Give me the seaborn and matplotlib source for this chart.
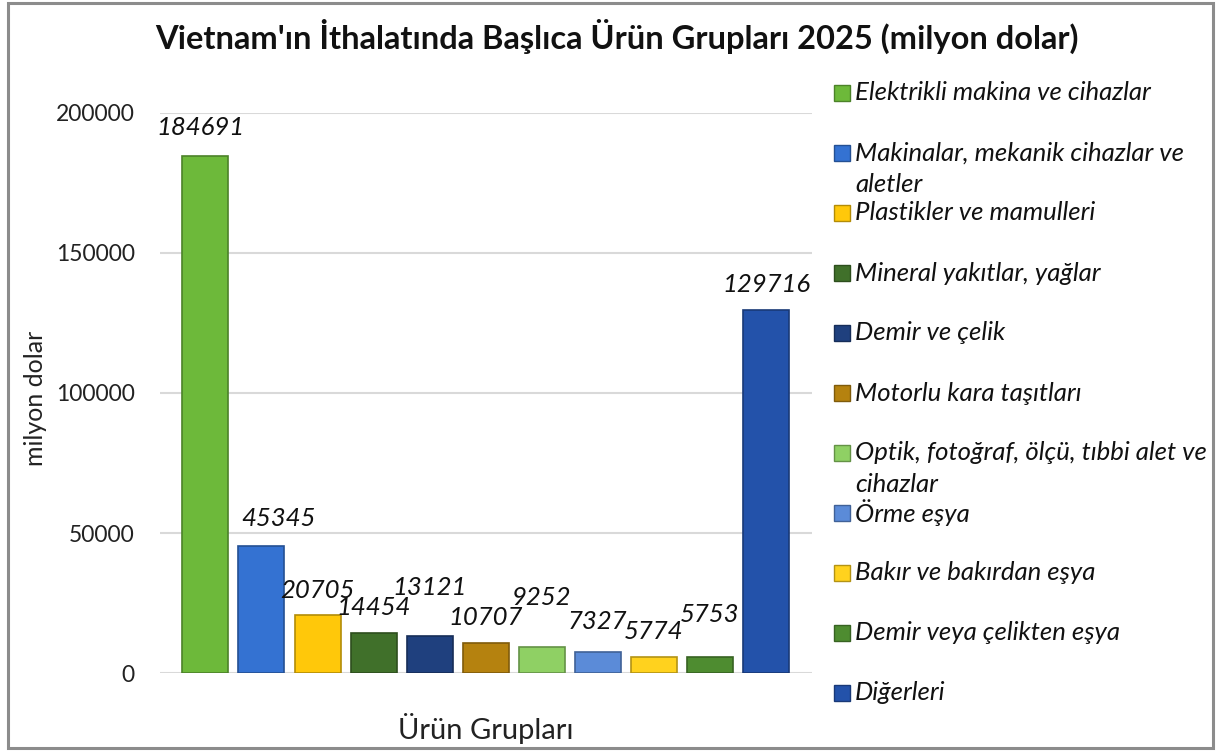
import matplotlib
matplotlib.use("Agg")
import matplotlib.pyplot as plt
import seaborn as sns
import pandas as pd
from matplotlib.patches import Rectangle
from matplotlib.colors import to_rgb

categories = [
    "Elektrikli makina ve cihazlar",
    "Makinalar, mekanik cihazlar ve\naletler",
    "Plastikler ve mamulleri",
    "Mineral yakıtlar, yağlar",
    "Demir ve çelik",
    "Motorlu kara taşıtları",
    "Optik, fotoğraf, ölçü, tıbbi alet ve\ncihazlar",
    "Örme eşya",
    "Bakır ve bakırdan eşya",
    "Demir veya çelikten eşya",
    "Diğerleri",
]
values = [184691, 45345, 20705, 14454, 13121, 10707, 9252, 7327, 5774, 5753, 129716]
colors = ["#6DB93A", "#3472D2", "#FFC80A", "#40702A", "#1F407E", "#B5820F",
          "#8FD064", "#5B8BD8", "#FFD21E", "#4E8C30", "#2352AA"]
# label offsets (pixels) to mimic the original placement
label_dx = [-5, 17, 0, 0, 0, 0, 0, 0, 0, 0, 0]
label_dy = [28, 28, 25, 25, 49, 26, 50, 31, 25, 42, 25]

df = pd.DataFrame({"cat": categories, "val": values})

sns.set_theme(style="white")
plt.rcParams["font.family"] = ["Lato", "DejaVu Sans"]

W, H = 1219, 756
fig = plt.figure(figsize=(W / 100, H / 100), dpi=100)
ax = fig.add_axes([160 / W, 1 - 673 / H, 652 / W, 560 / H])

dark = [tuple(c * 0.7 for c in to_rgb(col)) for col in colors]
sns.barplot(data=df, x="cat", y="val", hue="cat", palette=colors, legend=False,
            width=0.82, ax=ax, saturation=1)
for bar, ec in zip(ax.patches, dark):
    bar.set_edgecolor(ec)
    bar.set_linewidth(1.2)

ax.set_ylim(0, 200000)
ax.set_xlim(-0.81, 10.82)
ax.set_yticks([0, 50000, 100000, 150000, 200000])
ax.yaxis.grid(True, color="#D9D9D9", linewidth=1.5)
ax.set_axisbelow(True)
for s in ax.spines.values():
    s.set_visible(False)
ax.set_xticks([])
ax.tick_params(axis="y", labelsize=16.5, pad=18, length=0, labelcolor="#222222")
ax.set_xlabel("Ürün Grupları", fontsize=21, labelpad=29, color="#222222")
ax.set_ylabel("milyon dolar", fontsize=18, color="#222222")
ax.yaxis.set_label_coords(-0.173, 0.491)

for i, v in enumerate(values):
    ax.annotate(str(v), (i, v), xytext=(label_dx[i], label_dy[i]),
                textcoords="offset pixels", ha="center", va="center",
                fontsize=18.5, fontstyle="italic", color="#111111")

fig.text(617 / W, 1 - 49 / H,
         "Vietnam'ın İthalatında Başlıca Ürün Grupları 2025 (milyon dolar)",
         ha="center", va="baseline", fontsize=23.5, fontweight="bold",
         color="#111111")

# legend drawn like the Excel one: fixed pitch, wrapped text hangs below
for i, (lab, col, ec) in enumerate(zip(categories, colors, dark)):
    yc = 93 + 60 * i
    fig.patches.append(Rectangle((834 / W, 1 - (yc + 8) / H), 16 / W, 16 / H,
                                 facecolor=col, edgecolor=ec, linewidth=1,
                                 transform=fig.transFigure))
    for k, line in enumerate(lab.split("\n")):
        fig.text(855 / W, 1 - (yc + 32 * k) / H, line, ha="left", va="center",
                 fontsize=18.5, fontstyle="italic", color="#111111")

fig.patches.append(Rectangle((8 / W, 8 / H), 1205 / W, 745 / H, fill=False,
                             edgecolor="#8C8C8C", linewidth=2.2,
                             transform=fig.transFigure))

fig.savefig("out.png", dpi=100, facecolor="white")
